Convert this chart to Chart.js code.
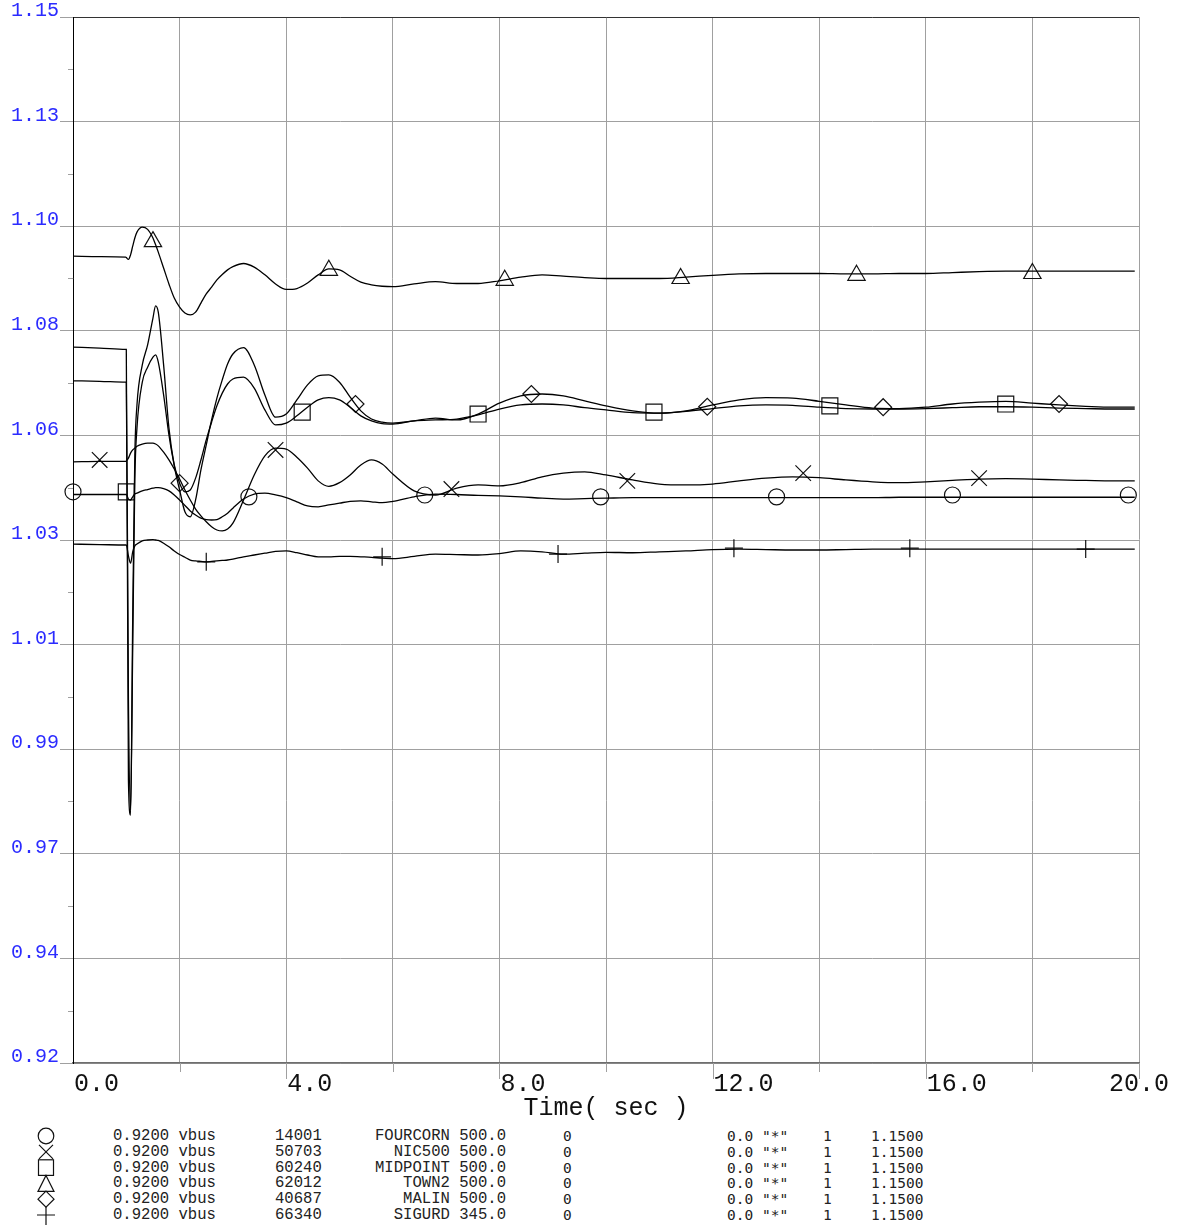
<!DOCTYPE html>
<html>
<head>
<meta charset="utf-8">
<script src="https://cdn.jsdelivr.net/npm/chart.js@4.4.1/dist/chart.umd.min.js"></script>
<style>
  html, body { margin: 0; padding: 0; background: #fff; }
  #wrap { position: relative; width: 1178px; height: 1230px; overflow: hidden; }
  #c { position: absolute; left: 0; top: 0; }
  .lg { position: absolute; height: 16px; line-height: 16px; white-space: pre; color: #222; }
  .cm { font-family: "Liberation Mono", monospace; font-size: 15.6px; }
  .sm { font-family: "DejaVu Sans Mono", monospace; font-size: 14.5px; }
</style>
</head>
<body>
<div id="wrap">
  <canvas id="c" width="1178" height="1125"></canvas>
  <svg id="sym" style="position:absolute;left:30px;top:1124px" width="34" height="106"></svg>
  <div id="legend"></div>
</div>
<script>
// ---- time base (seconds) ----
const time = [0, 0.5, 0.99, 1.0, 1.04, 1.08, 1.12, 1.16, 1.2, 1.3, 1.4, 1.5, 1.55, 1.6, 1.7, 1.8, 1.9, 2.0, 2.1, 2.2, 2.3, 2.4, 2.5, 2.6, 2.7, 2.8, 2.9, 3.0, 3.2, 3.4, 3.6, 3.8, 4.0, 4.2, 4.4, 4.6, 4.8, 5.0, 5.2, 5.4, 5.6, 5.8, 6.0, 6.4, 6.8, 7.2, 7.6, 8.0, 8.4, 8.8, 9.2, 9.6, 10.0, 10.5, 11.0, 11.5, 12.0, 12.5, 13.0, 13.5, 14.0, 14.5, 15.0, 15.5, 16.0, 16.5, 17.0, 17.5, 18.0, 18.5, 19.0, 19.5, 19.92];

// ---- bus voltages (pu) ----
const fourcorn = [1.0450, 1.0450, 1.0450, 1.0450, 1.0440, 1.0438, 1.0445, 1.0451, 1.0453, 1.0458, 1.0461, 1.0464, 1.0465, 1.0465, 1.0463, 1.0458, 1.0449, 1.0438, 1.0426, 1.0414, 1.0405, 1.0398, 1.0395, 1.0394, 1.0395, 1.0401, 1.0409, 1.0420, 1.0440, 1.0451, 1.0453, 1.0449, 1.0443, 1.0434, 1.0425, 1.0423, 1.0427, 1.0431, 1.0435, 1.0436, 1.0434, 1.0432, 1.0435, 1.0445, 1.0451, 1.0450, 1.0448, 1.0447, 1.0445, 1.0442, 1.0440, 1.0441, 1.0442, 1.0443, 1.0443, 1.0443, 1.0443, 1.0443, 1.0443, 1.0443, 1.0443, 1.0443, 1.0443, 1.0444, 1.0444, 1.0444, 1.0444, 1.0444, 1.0444, 1.0444, 1.0444, 1.0444, 1.0444];

const nic500 = [1.0522, 1.0523, 1.0523, 1.0524, 1.0530, 1.0541, 1.0548, 1.0552, 1.0556, 1.0561, 1.0563, 1.0563, 1.0561, 1.0557, 1.0543, 1.0526, 1.0506, 1.0484, 1.0460, 1.0438, 1.0418, 1.0403, 1.0390, 1.0379, 1.0372, 1.0370, 1.0374, 1.0387, 1.0438, 1.0493, 1.0535, 1.0552, 1.0550, 1.0532, 1.0508, 1.0480, 1.0468, 1.0476, 1.0493, 1.0515, 1.0526, 1.0517, 1.0495, 1.0458, 1.0449, 1.0464, 1.0471, 1.0469, 1.0476, 1.0489, 1.0497, 1.0500, 1.0493, 1.0482, 1.0473, 1.0471, 1.0473, 1.0480, 1.0486, 1.0489, 1.0487, 1.0482, 1.0478, 1.0476, 1.0478, 1.0481, 1.0484, 1.0485, 1.0484, 1.0482, 1.0481, 1.0480, 1.0480];

const midpoint = [1.0700, 1.0699, 1.0697, 1.0697, 0.9998, 0.9756, 1.0108, 1.0482, 1.0596, 1.0697, 1.0730, 1.0752, 1.0757, 1.0741, 1.0669, 1.0581, 1.0515, 1.0475, 1.0456, 1.0460, 1.0486, 1.0526, 1.0570, 1.0609, 1.0645, 1.0673, 1.0693, 1.0704, 1.0708, 1.0684, 1.0636, 1.0603, 1.0607, 1.0623, 1.0642, 1.0658, 1.0663, 1.0658, 1.0642, 1.0623, 1.0612, 1.0606, 1.0605, 1.0612, 1.0614, 1.0616, 1.0625, 1.0638, 1.0647, 1.0649, 1.0647, 1.0641, 1.0636, 1.0630, 1.0629, 1.0633, 1.0639, 1.0645, 1.0647, 1.0646, 1.0642, 1.0639, 1.0638, 1.0638, 1.0639, 1.0641, 1.0643, 1.0643, 1.0642, 1.0640, 1.0639, 1.0638, 1.0638];

const town2 = [1.0974, 1.0973, 1.0972, 1.0971, 1.0967, 1.0977, 1.0996, 1.1014, 1.1027, 1.1038, 1.1033, 1.1014, 1.0999, 1.0983, 1.0948, 1.0913, 1.0882, 1.0862, 1.0849, 1.0845, 1.0851, 1.0871, 1.0891, 1.0906, 1.0922, 1.0934, 1.0944, 1.0951, 1.0958, 1.0950, 1.0933, 1.0913, 1.0901, 1.0903, 1.0915, 1.0933, 1.0946, 1.0944, 1.0930, 1.0917, 1.0911, 1.0908, 1.0907, 1.0913, 1.0918, 1.0914, 1.0914, 1.0920, 1.0928, 1.0933, 1.0930, 1.0927, 1.0925, 1.0925, 1.0925, 1.0928, 1.0932, 1.0935, 1.0936, 1.0936, 1.0936, 1.0935, 1.0935, 1.0936, 1.0936, 1.0938, 1.0940, 1.0941, 1.0941, 1.0941, 1.0941, 1.0941, 1.0941];

const malin = [1.0774, 1.0772, 1.0769, 1.0769, 0.9822, 0.9745, 1.0174, 1.0537, 1.0647, 1.0735, 1.0779, 1.0838, 1.0865, 1.0851, 1.0735, 1.0596, 1.0513, 1.0460, 1.0412, 1.0401, 1.0438, 1.0504, 1.0559, 1.0614, 1.0662, 1.0702, 1.0737, 1.0759, 1.0773, 1.0735, 1.0669, 1.0620, 1.0627, 1.0658, 1.0691, 1.0711, 1.0713, 1.0697, 1.0664, 1.0634, 1.0616, 1.0609, 1.0607, 1.0612, 1.0618, 1.0614, 1.0627, 1.0651, 1.0667, 1.0671, 1.0667, 1.0656, 1.0645, 1.0634, 1.0629, 1.0634, 1.0647, 1.0658, 1.0663, 1.0662, 1.0655, 1.0647, 1.0640, 1.0639, 1.0642, 1.0649, 1.0653, 1.0655, 1.0651, 1.0647, 1.0644, 1.0642, 1.0642];

const sigurd = [1.0341, 1.0340, 1.0339, 1.0339, 1.0315, 1.0299, 1.0324, 1.0337, 1.0341, 1.0348, 1.0350, 1.0351, 1.0350, 1.0349, 1.0343, 1.0335, 1.0326, 1.0318, 1.0312, 1.0306, 1.0304, 1.0303, 1.0302, 1.0303, 1.0304, 1.0305, 1.0306, 1.0308, 1.0313, 1.0317, 1.0321, 1.0325, 1.0326, 1.0322, 1.0317, 1.0313, 1.0313, 1.0314, 1.0314, 1.0313, 1.0312, 1.0310, 1.0309, 1.0314, 1.0319, 1.0318, 1.0317, 1.0320, 1.0326, 1.0324, 1.0319, 1.0321, 1.0323, 1.0322, 1.0324, 1.0326, 1.0329, 1.0330, 1.0329, 1.0328, 1.0328, 1.0329, 1.0330, 1.0330, 1.0330, 1.0330, 1.0330, 1.0330, 1.0330, 1.0330, 1.0330, 1.0330, 1.0330];

// ---- curve symbols (time, value) ----
const fourcornMarkT = [0, 3.3, 6.6, 9.9, 13.2, 16.5, 19.8];
const fourcornMarkV = [1.0456, 1.0445, 1.0449, 1.0445, 1.0445, 1.0449, 1.0449];
const nic500MarkT = [0.5, 3.8, 7.1, 10.4, 13.7, 17.0];
const nic500MarkV = [1.0526, 1.0548, 1.0462, 1.0480, 1.0497, 1.0486];
const midpointMarkT = [1.0, 4.3, 7.6, 10.9, 14.2, 17.5];
const midpointMarkV = [1.0456, 1.0631, 1.0627, 1.0631, 1.0645, 1.0649];
const town2MarkT = [1.5, 4.8, 8.1, 11.4, 14.7, 18.0];
const town2MarkV = [1.1006, 1.0943, 1.0921, 1.0925, 1.0932, 1.0936];
const malinMarkT = [2.0, 5.3, 8.6, 11.9, 15.2, 18.5];
const malinMarkV = [1.0475, 1.0649, 1.0671, 1.0643, 1.0642, 1.0649];
const sigurdMarkT = [2.5, 5.8, 9.1, 12.4, 15.7, 19.0];
const sigurdMarkV = [1.0302, 1.0313, 1.0319, 1.0332, 1.0332, 1.0330];

// ---- axes ----
const yTickValues = [0.92, 0.943, 0.966, 0.989, 1.012, 1.035, 1.058, 1.081, 1.104, 1.127, 1.15];
const yTickLabels = ['0.92', '0.94', '0.97', '0.99', '1.01', '1.03', '1.06', '1.08', '1.10', '1.13', '1.15'];
const yMinorTicks = [0.9315, 0.9545, 0.9775, 1.0005, 1.0235, 1.0465, 1.0695, 1.0925, 1.1155, 1.1385];
const xGridValues = [0, 2, 4, 6, 8, 10, 12, 14, 16, 18, 20];
const xTickValues = [0, 4, 8, 12, 16, 20];
const xTickLabels = ['0.0', '4.0', '8.0', '12.0', '16.0', '20.0'];
const xTitle = 'Time( sec )';

// ---- legend ----
const legendMin = ['0.9200', '0.9200', '0.9200', '0.9200', '0.9200', '0.9200'];
const legendQty = ['vbus', 'vbus', 'vbus', 'vbus', 'vbus', 'vbus'];
const legendBus = ['14001', '50703', '60240', '62012', '40687', '66340'];
const legendName = ['FOURCORN', 'NIC500', 'MIDPOINT', 'TOWN2', 'MALIN', 'SIGURD'];
const legendKV = ['500.0', '500.0', '500.0', '500.0', '500.0', '345.0'];
const legendC4 = ['0', '0', '0', '0', '0', '0'];
const legendC5 = ['0.0 "*"', '0.0 "*"', '0.0 "*"', '0.0 "*"', '0.0 "*"', '0.0 "*"'];
const legendC6 = ['1', '1', '1', '1', '1', '1'];
const legendMax = ['1.1500', '1.1500', '1.1500', '1.1500', '1.1500', '1.1500'];

const pts = (xs, ys) => xs.map((t, i) => ({ x: t, y: ys[i] }));
const lineDs = (label, vals) => ({
  label, data: pts(time, vals), borderColor: '#000', borderWidth: 1.3,
  pointRadius: 0, cubicInterpolationMode: 'monotone', fill: false
});
const markDs = (label, ts, vs, style, r) => ({
  label, data: pts(ts, vs), showLine: false, pointStyle: style, pointRadius: r,
  pointBorderColor: '#111', pointBackgroundColor: 'rgba(0,0,0,0)', pointBorderWidth: 1.2, clip: false
});

const axisDeco = {
  id: 'axisDeco',
  afterDraw(chart) {
    const ctx = chart.ctx, xs = chart.scales.x, ys = chart.scales.y, ca = chart.chartArea;
    ctx.save();
    ctx.strokeStyle = '#a0a0a0';
    ctx.lineWidth = 1;
    // minor y ticks
    yMinorTicks.forEach(v => {
      const y = Math.round(ys.getPixelForValue(v)) + 0.5;
      ctx.beginPath(); ctx.moveTo(ca.left - 5, y); ctx.lineTo(ca.left, y); ctx.stroke();
    });
    // x tick marks under axis
    xGridValues.forEach(v => {
      if (v === 0) return;
      const x = Math.round(xs.getPixelForValue(v)) + 0.5;
      const len = xTickValues.includes(v) ? 16 : 9;
      ctx.beginPath(); ctx.moveTo(x, ca.bottom); ctx.lineTo(x, ca.bottom + len); ctx.stroke();
    });
    // x tick labels
    ctx.fillStyle = '#111';
    ctx.font = '25px "Liberation Mono"';
    ctx.textBaseline = 'alphabetic';
    xTickValues.forEach((v, i) => {
      const x = xs.getPixelForValue(v);
      const last = i === xTickValues.length - 1;
      ctx.textAlign = last ? 'center' : 'left';
      ctx.fillText(xTickLabels[i], last ? x : x + 1, ca.bottom + 28);
    });
    ctx.restore();
  }
};

new Chart(document.getElementById('c'), {
  type: 'line',
  data: {
    datasets: [
      lineDs('FOURCORN', fourcorn), lineDs('NIC500', nic500), lineDs('MIDPOINT', midpoint),
      lineDs('TOWN2', town2), lineDs('MALIN', malin), lineDs('SIGURD', sigurd),
      markDs('FOURCORN', fourcornMarkT, fourcornMarkV, 'circle', 8),
      markDs('NIC500', nic500MarkT, nic500MarkV, 'crossRot', 11),
      markDs('MIDPOINT', midpointMarkT, midpointMarkV, 'rect', 11.3),
      markDs('TOWN2', town2MarkT, town2MarkV, 'triangle', 10),
      markDs('MALIN', malinMarkT, malinMarkV, 'rectRot', 8.5),
      markDs('SIGURD', sigurdMarkT, sigurdMarkV, 'cross', 9)
    ]
  },
  options: {
    responsive: false,
    animation: false,
    events: [],
    layout: { padding: { top: 17, right: 39, left: 0, bottom: 0 } },
    plugins: { legend: { display: false }, tooltip: { enabled: false } },
    scales: {
      x: {
        type: 'linear', min: 0, max: 20,
        afterBuildTicks: s => { s.ticks = xGridValues.map(v => ({ value: v })); },
        afterFit: s => { s.height = 62; },
        ticks: { display: false },
        grid: { color: '#a0a0a0', lineWidth: 1, drawTicks: false },
        border: { color: '#6e6e6e', width: 1.5 },
        title: { display: true, text: xTitle, color: '#111', font: { family: 'Liberation Mono', size: 25 }, padding: { top: 0, bottom: 2 } }
      },
      y: {
        type: 'linear', min: 0.92, max: 1.15,
        afterBuildTicks: s => { s.ticks = yTickValues.map(v => ({ value: v })); },
        afterFit: s => { s.width = 73; },
        ticks: {
          callback: (v, i) => yTickLabels[i],
          color: '#2b2bff', font: { family: 'Liberation Mono', size: 20 },
          padding: 1, labelOffset: -6, autoSkip: false
        },
        grid: {
          color: c => (c.tick && c.tick.value === 1.15) ? '#333' : '#a0a0a0',
          tickColor: '#a0a0a0', tickLength: 13, lineWidth: 1
        },
        border: { color: '#000', width: 1 }
      }
    }
  },
  plugins: [axisDeco]
});

// legend text
(function () {
  const lg = document.getElementById('legend');
  const rowTop = r => 1128 + r * 15.8;
  const add = (txt, cls, left, top, right) => {
    const d = document.createElement('div');
    d.className = 'lg ' + cls;
    d.textContent = txt;
    d.style.top = top + 'px';
    if (right !== undefined) { d.style.right = (1178 - right) + 'px'; d.style.textAlign = 'right'; }
    else d.style.left = left + 'px';
    lg.appendChild(d);
  };
  legendBus.forEach((b, r) => {
    const t = rowTop(r);
    add(legendMin[r] + ' ' + legendQty[r], 'cm', 113, t);
    add(b, 'cm', 275, t);
    add(legendName[r] + ' ' + legendKV[r], 'cm', 0, t, 506);
    add(legendC4[r], 'sm', 563, t);
    add(legendC5[r], 'sm', 727, t);
    add(legendC6[r], 'sm', 823, t);
    add(legendMax[r], 'sm', 871, t);
  });
  // symbol chain
  const svg = document.getElementById('sym');
  const ox = 16, c0 = 12;
  const cy = r => c0 + r * 15.8;
  const s = 'stroke="#111" stroke-width="1.2" fill="none"';
  svg.innerHTML =
    `<circle cx="${ox}" cy="${cy(0)}" r="7.8" ${s}/>` +
    `<path d="M${ox - 7} ${cy(1) - 7} L${ox + 7} ${cy(1) + 7} M${ox + 7} ${cy(1) - 7} L${ox - 7} ${cy(1) + 7}" ${s}/>` +
    `<rect x="${ox - 7.5}" y="${cy(2) - 7.8}" width="15" height="15.6" ${s}/>` +
    `<path d="M${ox} ${cy(3) - 8} L${ox + 8} ${cy(3) + 8} L${ox - 8} ${cy(3) + 8} Z" ${s}/>` +
    `<path d="M${ox} ${cy(4) - 8} L${ox + 8} ${cy(4)} L${ox} ${cy(4) + 8} L${ox - 8} ${cy(4)} Z" ${s}/>` +
    `<path d="M${ox} ${cy(5) - 8} L${ox} ${cy(5) + 10} M${ox - 9} ${cy(5)} L${ox + 9} ${cy(5)}" ${s}/>`;
})();
</script>
</body>
</html>
